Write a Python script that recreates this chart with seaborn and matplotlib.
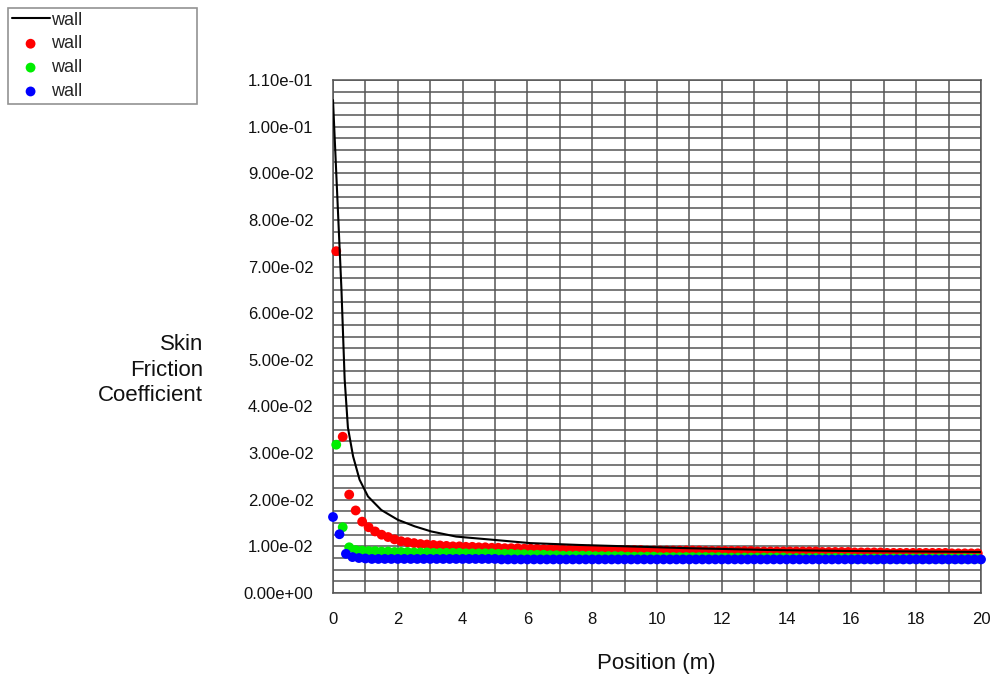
import numpy as np
import matplotlib
matplotlib.use("Agg")
import matplotlib.pyplot as plt
from matplotlib.ticker import MultipleLocator, FuncFormatter
import seaborn as sns

# black curve (wall, line)
line_x = [0.0, 0.26, 0.36, 0.46, 0.62, 0.82, 1.08, 1.49, 2.0, 2.52, 3.03, 3.8,
          4.95, 6.08, 7.6, 9.1, 11.0, 13.6, 16.0, 20.0]
line_y = [0.1057, 0.0652, 0.0458, 0.0355, 0.0293, 0.0243, 0.0207, 0.0178, 0.0157,
          0.0143, 0.0132, 0.0121, 0.0114, 0.0107, 0.0103, 0.0100, 0.0096, 0.0092,
          0.0090, 0.0088]

# red / green points sit at cell centres, blue at nodes
red_x = np.round(np.arange(0.1, 20.0, 0.2), 2)
red_y = ([0.0733, 0.0335, 0.0211, 0.0177, 0.0153, 0.0141, 0.0132, 0.0125, 0.0120, 0.0115,
          0.0111, 0.0109, 0.0107, 0.0105, 0.0104, 0.0103, 0.0102, 0.0101, 0.0100, 0.0100,
          0.0099, 0.0099, 0.0098, 0.0098, 0.0097,
          0.0097, 0.0096, 0.0096, 0.0096, 0.0095, 0.0095, 0.0095, 0.0094, 0.0094, 0.0094]
         + [0.0093] * 5 + [0.0092] * 8 + [0.0091] * 9 + [0.0090] * 8
         + [0.0089] * 10 + [0.0088] * 5 + [0.0087] * 5 + [0.0086] * 10 + [0.0085] * 5)

green_x = np.round(np.arange(0.1, 20.0, 0.2), 2)
green_y = ([0.0318, 0.0141, 0.0098, 0.0092, 0.0091, 0.0090, 0.0090, 0.0089, 0.0089, 0.0088,
            0.0088, 0.0088, 0.0087, 0.0087, 0.0087]
           + [0.0086] * 5 + [0.0085] * 5 + [0.0084] * 3 + [0.0083] * 2
           + [0.0082] * 3 + [0.0081] * 2 + [0.0080] * 5 + [0.0079] * 5 + [0.0078] * 5
           + [0.0077] * 10 + [0.0076] * 10 + [0.0075] * 10 + [0.0074] * 20)

blue_x = np.round(np.arange(0.0, 20.01, 0.2), 2)
blue_y = ([0.0163, 0.0126, 0.0084, 0.0077, 0.0075, 0.0074]
          + [0.0073] * 20 + [0.0072] * 75)

sns.set_style("white")
plt.rcParams['font.family'] = ['Liberation Sans Narrow', 'Liberation Sans', 'DejaVu Sans']

grid_col = '#555555'

fig = plt.figure(figsize=(9.94, 6.86), dpi=100)
ax = fig.add_axes([333 / 994, 93 / 686, 648 / 994, 513 / 686])

sns.lineplot(x=line_x, y=line_y, color='black', lw=1.5, sort=False, ax=ax,
             label='wall', zorder=5)
sns.scatterplot(x=red_x, y=red_y, color='#ff0000', s=50, edgecolor='none', ax=ax,
                label='wall', clip_on=False, zorder=3)
sns.scatterplot(x=green_x, y=green_y, color='#00ee00', s=50, edgecolor='none', ax=ax,
                label='wall', clip_on=False, zorder=3)
sns.scatterplot(x=blue_x, y=blue_y, color='#0000ff', s=50, edgecolor='none', ax=ax,
                label='wall', clip_on=False, zorder=4)

ax.set_xlim(0, 20)
ax.set_ylim(0, 0.11)
ax.xaxis.set_major_locator(MultipleLocator(2))
ax.xaxis.set_minor_locator(MultipleLocator(1))
ax.yaxis.set_major_locator(MultipleLocator(0.01))
ax.yaxis.set_minor_locator(MultipleLocator(0.0025))
ax.yaxis.set_major_formatter(FuncFormatter(lambda v, p: '{:.2e}'.format(abs(v) if abs(v) < 1e-9 else v)))
ax.xaxis.set_major_formatter(FuncFormatter(lambda v, p: '%d' % round(v)))

ax.grid(True, which='both', color=grid_col, lw=1.1)
ax.set_axisbelow(True)
ax.tick_params(axis='both', which='both', direction='out', color=grid_col, width=1.1,
               labelsize=12, labelcolor='#111111')
ax.tick_params(axis='y', which='major', length=8, pad=6)
ax.tick_params(axis='y', which='minor', length=4)
ax.tick_params(axis='x', which='major', length=6, pad=8)
ax.tick_params(axis='x', which='minor', length=4)
for s in ax.spines.values():
    s.set_color(grid_col)
    s.set_linewidth(1.1)
ax.set_xlabel('')
ax.set_ylabel('')

fig.text(203 / 994, 1 - 370 / 686, 'Skin\nFriction\nCoefficient', ha='right', va='center',
         multialignment='right', fontsize=16, linespacing=1.3, color='#111111')
fig.text(656 / 994, 1 - 664 / 686, 'Position (m)', ha='center', va='center',
         fontsize=16, color='#111111')

handles, labels = ax.get_legend_handles_labels()
ax.get_legend().remove()
leg = fig.legend(handles, labels, loc='upper left',
                 bbox_to_anchor=(8 / 994, 1 - 104 / 686, 189 / 994, 96 / 686),
                 mode='expand', fontsize=13, frameon=True, fancybox=False,
                 edgecolor='#777777', borderaxespad=0, borderpad=0.2,
                 labelspacing=0.38, handlelength=2.1, handletextpad=0.1)
leg.get_frame().set_linewidth(1.2)

fig.savefig('out.png', dpi=100)
